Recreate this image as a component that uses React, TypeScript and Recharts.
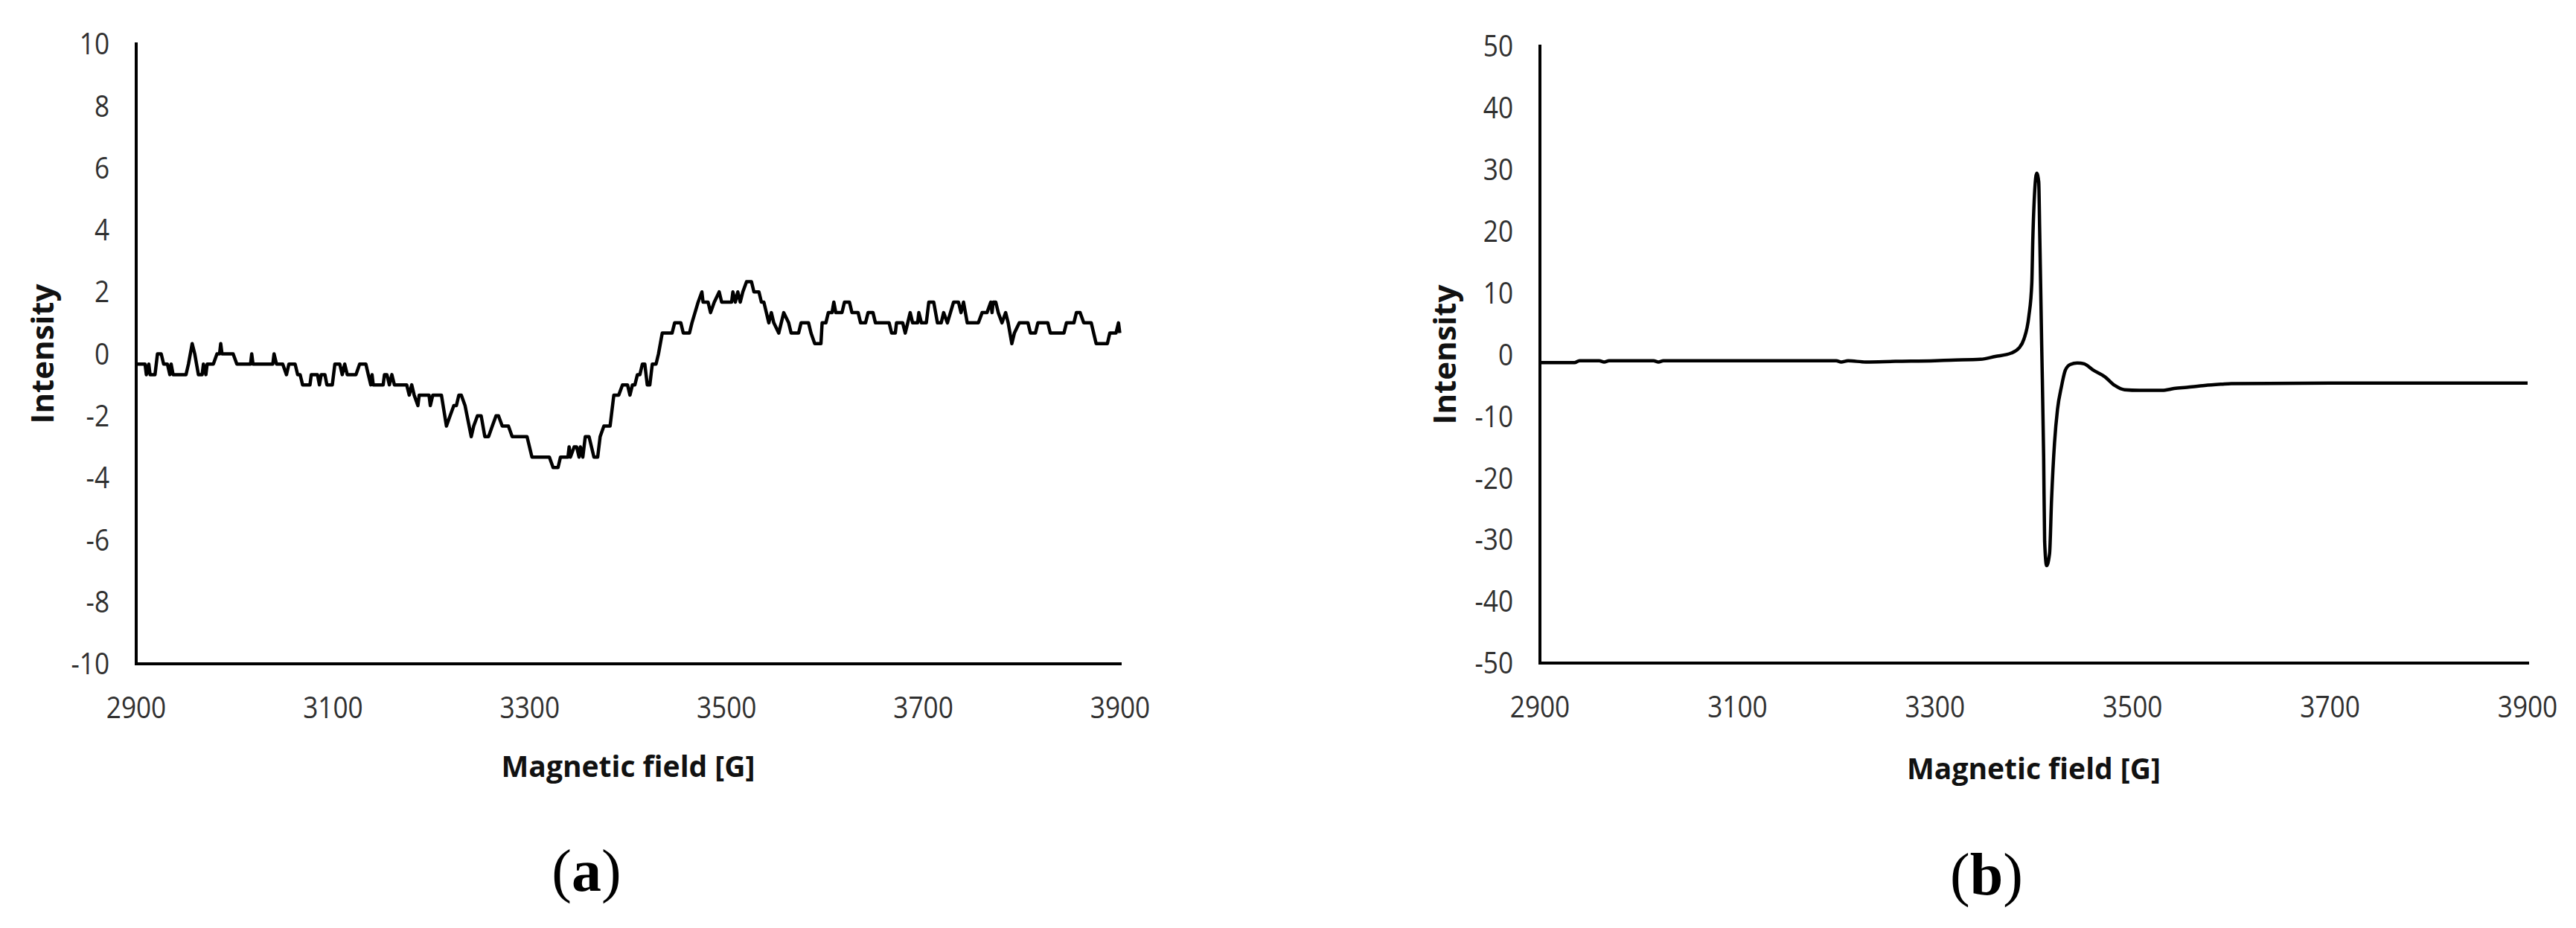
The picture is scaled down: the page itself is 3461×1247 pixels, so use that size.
import React from "react";
import { LineChart, Line, XAxis, YAxis, Label } from "recharts";

// field ticks shared by both panels
const fieldTicks = [2900, 3100, 3300, 3500, 3700, 3900];
const aIntensityTicks = [-10, -8, -6, -4, -2, 0, 2, 4, 6, 8, 10];
const bIntensityTicks = [-50, -40, -30, -20, -10, 0, 10, 20, 30, 40, 50];

// panel (a): noisy weak signal
const aField = [
  2900, 2909, 2910.3, 2912.8, 2914.1, 2919.1, 2921.6, 2925.4, 2927.9, 2931.7,
  2934.2, 2935.5, 2937.5, 2939.3, 2950.6, 2953.1, 2956.9, 2959.5, 2963.2, 2967,
  2968.3, 2970.8, 2972.1, 2978.4, 2982.1, 2984.7, 2985.9, 2987.2, 2998.5, 3002.3,
  3016.2, 3017.4, 3018.7, 3038.8, 3040.1, 3042.6, 3048.9, 3052.7, 3055.2, 3061.5,
  3064.1, 3066.6, 3069.1, 3076.6, 3077.9, 3084.2, 3086.2, 3088, 3091.8, 3093.8,
  3099.3, 3101.9, 3106.9, 3109.4, 3111.9, 3114.5, 3123.3, 3127.1, 3133.4, 3135.9,
  3138.4, 3139.7, 3140.9, 3151, 3152.3, 3154.8, 3157.3, 3159.8, 3162.4, 3174.9,
  3177.5, 3180, 3182.5, 3186.3, 3187.6, 3197.6, 3198.9, 3201.4, 3210.2, 3215.3,
  3219, 3222.8, 3225.4, 3227.9, 3230.4, 3234.2, 3240.5, 3243, 3246.8, 3250.6,
  3254.3, 3258.1, 3261.9, 3265.7, 3268.2, 3272, 3278.3, 3282.1, 3297.2, 3302.2,
  3319.9, 3323.7, 3328.7, 3331.2, 3338.8, 3340, 3341.3, 3345.1, 3347.6, 3350.1,
  3351.4, 3353.9, 3356.4, 3360.2, 3365.2, 3369, 3371.5, 3375.3, 3381.6, 3385.4,
  3390.4, 3394.2, 3399.3, 3401.8, 3404.3, 3406.8, 3409.4, 3411.9, 3414.4, 3416.9,
  3419.4, 3422, 3424.5, 3428.3, 3430.8, 3434.6, 3444.6, 3447.2, 3453.5, 3456,
  3462.3, 3464.8, 3471.1, 3474.9, 3476.1, 3481.2, 3483.7, 3487.5, 3492.5, 3495,
  3505.1, 3506.4, 3508.9, 3511.4, 3513.9, 3516.5, 3520.3, 3525.3, 3527.8, 3532.9,
  3535.4, 3537.9, 3542.9, 3545.5, 3548, 3553, 3558.1, 3563.1, 3565.6, 3573.2,
  3575.7, 3583.3, 3585.8, 3589.6, 3595.9, 3597.1, 3600.9, 3603.4, 3607.2, 3609,
  3611, 3617.3, 3619.8, 3624.9, 3627.4, 3633.7, 3636.2, 3641.2, 3643.8, 3648.8,
  3651.3, 3665.2, 3667.7, 3671.5, 3672.7, 3679, 3681.6, 3684.1, 3686.6, 3689.1,
  3694.2, 3695.4, 3698, 3703, 3705.5, 3710.5, 3714.3, 3718.1, 3720.6, 3724.4,
  3730.7, 3735.7, 3738.3, 3740.8, 3744.6, 3755.9, 3759.7, 3764.7, 3768.5, 3769.8,
  3771, 3773.6, 3776.1, 3779.9, 3783.6, 3786.2, 3789.9, 3792.5, 3797.5, 3806.3,
  3808.8, 3813.9, 3816.4, 3826.5, 3829, 3842.9, 3845.4, 3853, 3855.5, 3859.3,
  3863, 3870.6, 3875.6, 3887, 3889.5, 3895.8, 3898.3, 3899.6,
];
const aIntensity = [
  -0.33, -0.33, -0.67, -0.33, -0.67, -0.67, 0, 0, -0.33, -0.33,
  -0.67, -0.33, -0.67, -0.67, -0.67, -0.33, 0.33, 0, -0.67, -0.67,
  -0.33, -0.67, -0.33, -0.33, 0, 0, 0.33, 0, 0, -0.33,
  -0.33, 0, -0.33, -0.33, 0, -0.33, -0.33, -0.67, -0.33, -0.33,
  -0.67, -0.67, -1, -1, -0.67, -0.67, -1, -0.67, -0.67, -1,
  -1, -0.33, -0.33, -0.67, -0.33, -0.67, -0.67, -0.33, -0.33, -0.67,
  -1, -0.67, -1, -1, -0.67, -0.67, -1, -0.67, -1, -1,
  -1.33, -1, -1.33, -1.67, -1.33, -1.33, -1.67, -1.33, -1.33, -2.33,
  -2, -1.67, -1.67, -1.33, -1.33, -1.67, -2.67, -2.33, -2, -2,
  -2.67, -2.67, -2.33, -2, -2, -2.33, -2.33, -2.67, -2.67, -3.33,
  -3.33, -3.67, -3.67, -3.33, -3.33, -3, -3.33, -3, -3, -3.33,
  -3, -3.33, -2.67, -2.67, -3.33, -3.33, -2.67, -2.33, -2.33, -1.33,
  -1.33, -1, -1, -1.33, -1, -1, -0.67, -0.67, -0.33, -0.33,
  -1, -1, -0.33, -0.33, 0, 0.67, 0.67, 1, 1, 0.67,
  0.67, 1, 1.67, 2, 1.67, 1.67, 1.33, 1.67, 2, 1.67,
  1.67, 2, 1.67, 2, 1.67, 2, 2.33, 2.33, 2, 2,
  1.67, 1.67, 1, 1.33, 1, 0.67, 1.33, 1, 0.67, 0.67,
  1, 1, 0.67, 0.33, 0.33, 1, 1, 1.33, 1.33, 1.67,
  1.33, 1.33, 1.67, 1.67, 1.33, 1.33, 1, 1, 1.33, 1.33,
  1, 1, 0.67, 0.67, 1, 1, 0.67, 1, 1.33, 1,
  1, 1.33, 1, 1, 1.67, 1.67, 1, 1, 1.33, 1,
  1.67, 1.67, 1.33, 1.67, 1, 1, 1.33, 1.33, 1.67, 1.33,
  1.67, 1.67, 1.33, 1, 1.33, 1, 0.33, 0.67, 1, 1,
  0.67, 0.67, 1, 1, 0.67, 0.67, 1, 1, 1.33, 1.33,
  1, 1, 0.33, 0.33, 0.67, 0.67, 1, 0.67,
];

// panel (b): strong derivative line
const bField = [
  2900, 2935, 2940, 2960, 2965, 2970, 3015, 3020, 3025, 3200,
  3205, 3212, 3230, 3260, 3300, 3316, 3346, 3361, 3377, 3385,
  3390, 3395, 3398, 3399, 3401, 3403, 3405, 3406, 3408, 3410,
  3411, 3413, 3416, 3418, 3421, 3424, 3428, 3432, 3437, 3444,
  3451, 3460, 3472, 3482, 3492, 3507, 3530, 3542, 3555, 3573,
  3590, 3600, 3700, 3900,
];
const bIntensity = [
  -1.3, -1.3, -1.0, -1.0, -1.2, -1.0, -1.0, -1.2, -1.0, -1.0,
  -1.2, -1.0, -1.2, -1.1, -1.0, -0.9, -0.76, -0.3, 0.24, 1.06,
  2.5, 6.2, 11.6, 18.5, 26.7, 29.4, 28.0, 19.8, 1.6, -16.6,
  -30.3, -34.2, -32.2, -23.5, -14.3, -8.9, -5.2, -2.5, -1.6, -1.35,
  -1.5, -2.5, -3.6, -5.0, -5.7, -5.8, -5.8, -5.5, -5.3, -5.0,
  -4.8, -4.7, -4.6, -4.6,
];

const aData = aField.map((field, i) => ({ field, intensity: aIntensity[i] }));
const bData = bField.map((field, i) => ({ field, intensity: bIntensity[i] }));

const tickFont = "'Open Sans', sans-serif";
const tickColor = "#303030";
const titleColor = "#111";
const axisStyle = { stroke: "#000", strokeWidth: 4, strokeLinecap: "square" as const };

const renderXTick = (props: any) => {
  const { x, y, payload } = props;
  return (
    <text
      transform={`translate(${x},${y}) scale(0.88,1)`}
      textAnchor="middle"
      dy="0.71em"
      fontFamily={tickFont}
      fontSize={40}
      fill={tickColor}
    >
      {payload.value}
    </text>
  );
};

const renderYTick = (props: any) => {
  const { x, y, payload } = props;
  return (
    <text
      transform={`translate(${x},${y}) scale(0.88,1)`}
      textAnchor="end"
      dy="0.355em"
      fontFamily={tickFont}
      fontSize={40}
      fill={tickColor}
    >
      {payload.value}
    </text>
  );
};

const intensityTitle = (cx: number, fallbackCy: number) => (props: any) => {
  const vb = props.viewBox;
  const cy = vb && vb.height ? vb.y + vb.height / 2 : fallbackCy;
  return (
    <text
      x={cx}
      y={cy}
      transform={`rotate(-90 ${cx} ${cy})`}
      textAnchor="middle"
      dominantBaseline="central"
      fontFamily={tickFont}
      fontWeight={700}
      fontSize={42}
      fill={titleColor}
    >
      Intensity
    </text>
  );
};

function Panel(props: {
  data: { field: number; intensity: number }[];
  width: number;
  margin: { top: number; right: number; bottom: number; left: number };
  yDomain: [number, number];
  yTicks: number[];
  titleX: number;
  titleOffset: number;
  curve: "linear" | "monotone";
}) {
  const { data, width, margin, yDomain, yTicks, titleX, titleOffset, curve } = props;
  const plotMid = margin.top + (1247 - margin.top - margin.bottom - 80) / 2;
  return (
    <LineChart width={width} height={1247} data={data} margin={margin}>
      <XAxis
        dataKey="field"
        type="number"
        domain={[2900, 3900]}
        ticks={fieldTicks}
        interval={0}
        height={80}
        tickSize={0}
        tickMargin={45}
        tickLine={false}
        axisLine={axisStyle}
        tick={renderXTick}
      >
        <Label
          value="Magnetic field [G]"
          position="bottom"
          offset={titleOffset}
          fontFamily={tickFont}
          fontWeight={700}
          fontSize={39}
          fill={titleColor}
        />
      </XAxis>
      <YAxis
        type="number"
        domain={yDomain}
        ticks={yTicks}
        interval={0}
        width={140}
        tickSize={0}
        tickMargin={36}
        tickLine={false}
        axisLine={axisStyle}
        tick={renderYTick}
      >
        <Label content={intensityTitle(titleX, plotMid)} />
      </YAxis>
      <Line
        type={curve}
        dataKey="intensity"
        stroke="#000"
        strokeWidth={4.5}
        strokeLinejoin="round"
        dot={false}
        activeDot={false}
        isAnimationActive={false}
      />
    </LineChart>
  );
}

const captionStyle: React.CSSProperties = {
  position: "absolute",
  transform: "translate(-50%, -50%)",
  fontFamily: "'Liberation Serif', 'Times New Roman', serif",
  fontSize: 80,
  lineHeight: 1,
  color: "#000",
  whiteSpace: "nowrap",
};

export default function App() {
  return (
    <div
      style={{
        position: "absolute",
        left: 0,
        top: 0,
        width: 3461,
        height: 1247,
        background: "#fff",
        overflow: "hidden",
      }}
    >
      <div style={{ position: "absolute", left: 0, top: 0 }}>
        <Panel
          data={aData}
          width={1730}
          margin={{ top: 59, right: 225, bottom: 275, left: 43 }}
          yDomain={[-10, 10]}
          yTicks={aIntensityTicks}
          titleX={55}
          titleOffset={44}
          curve="linear"
        />
      </div>
      <div style={{ position: "absolute", left: 1730, top: 0 }}>
        <Panel
          data={bData}
          width={1731}
          margin={{ top: 62, right: 65, bottom: 276, left: 199 }}
          yDomain={[-50, 50]}
          yTicks={bIntensityTicks}
          titleX={209}
          titleOffset={48}
          curve="monotone"
        />
      </div>
      <div style={{ ...captionStyle, left: 788, top: 1170 }}>
        (<b>a</b>)
      </div>
      <div style={{ ...captionStyle, left: 2669, top: 1175 }}>
        (<b>b</b>)
      </div>
    </div>
  );
}
